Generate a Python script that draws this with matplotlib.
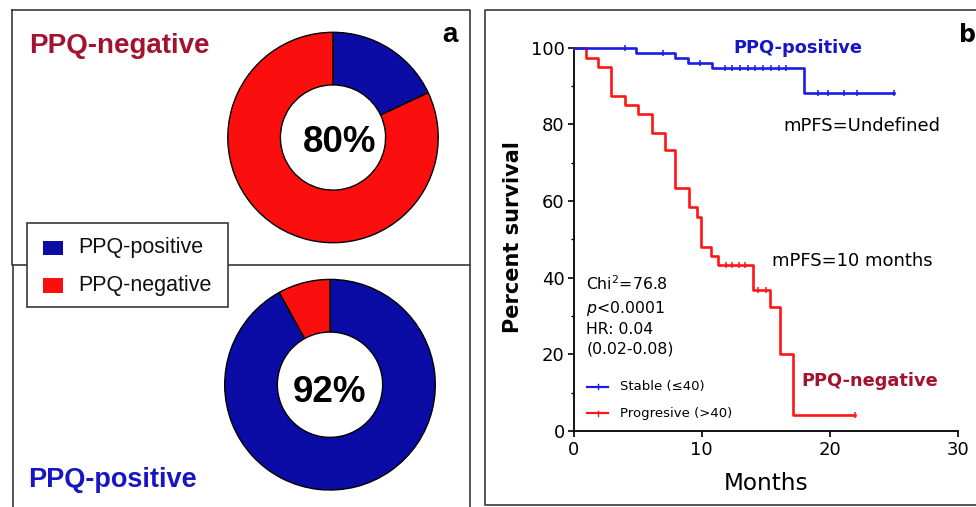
import matplotlib
matplotlib.use("Agg")
import matplotlib.pyplot as plt
from matplotlib.patches import Rectangle
from matplotlib.lines import Line2D

# ---------------- data ----------------
donut_labels = ["PPQ-positive", "PPQ-negative"]
donut_neg_values = [18, 82]      # PPQ-negative group: positive / negative share
donut_pos_values = [92, 8]       # PPQ-positive group: positive / negative share
donut_neg_text = "80%"
donut_pos_text = "92%"

# Kaplan-Meier, PPQ-positive (stable)
pos_times = [0, 4.85, 7.9, 8.96, 10.8, 18.0, 25.0]
pos_surv = [100, 98.7, 97.4, 96.1, 94.7, 88.3, 88.3]
pos_cens_t = [4.0, 7.0, 9.9, 11.8, 12.4, 13.0, 13.6, 14.2, 14.8, 15.4, 16.0, 16.6, 19.1, 19.9, 21.1, 22.1, 25.0]
pos_cens_s = [100, 98.7, 96.1, 94.7, 94.7, 94.7, 94.7, 94.7, 94.7, 94.7, 94.7, 94.7, 88.3, 88.3, 88.3, 88.3, 88.3]

# Kaplan-Meier, PPQ-negative (progressive)
neg_times = [0, 0.95, 1.9, 2.9, 4.0, 5.0, 6.1, 7.1, 7.95, 9.0, 9.6, 9.95, 10.7, 11.3, 14.0, 15.3, 16.1, 17.1, 22.0]
neg_surv = [100, 97.4, 94.9, 87.4, 85.1, 82.7, 77.8, 73.3, 63.5, 58.4, 55.9, 48.1, 45.7, 43.3, 36.8, 32.4, 20.1, 4.3, 4.3]
neg_cens_t = [11.9, 12.4, 12.9, 13.4, 14.4, 15.0, 22.0]
neg_cens_s = [43.3, 43.3, 43.3, 43.3, 36.8, 36.8, 4.3]

x_ticks = [0, 10, 20, 30]
y_ticks = [0, 20, 40, 60, 80, 100]
y_minor = [10, 30, 50, 70, 90]

stats_lines = ["Chi$^2$=76.8", "$\\it{p}$<0.0001", "HR: 0.04", "(0.02-0.08)"]
km_legend = ["Stable (\u226440)", "Progresive (>40)"]

# ---------------- styling ----------------
W, H = 976, 507
BLUE_D = "#0b0ba6"
RED_D = "#fb0e0e"
BLUE_L = "#1c1ce8"
RED_L = "#ff1515"
BLUE_T = "#1616c4"
RED_T = "#a3122e"
ARIAL = ["Liberation Sans", "DejaVu Sans"]
DV = ["DejaVu Sans"]

fig = plt.figure(figsize=(W / 100, H / 100), dpi=100)
fig.patch.set_facecolor("white")


def fx(x):
    return x / W


def fy(y):
    return 1 - y / H


def fline(xs, ys, **kw):
    fig.add_artist(Line2D([fx(v) for v in xs], [fy(v) for v in ys],
                          transform=fig.transFigure, **kw))


frame_kw = dict(color="#3a3a3a", lw=1.2)
# panel a frames
fline([12, 470, 470, 12, 12], [10, 10, 265, 265, 10], **frame_kw)
fline([13, 13], [265, 510], **frame_kw)
fline([470, 470], [265, 510], **frame_kw)
# panel b frame
fline([990, 485, 485, 990], [10, 10, 505, 505], **frame_kw)


def donut(cx, cy, r, values, text, tx, ty):
    S = 240
    ax = fig.add_axes([fx(cx - S / 2), fy(cy + S / 2), S / W, S / H])
    ax.pie(values, colors=[BLUE_D, RED_D], startangle=90, counterclock=False,
           wedgeprops=dict(width=0.5, edgecolor="black", linewidth=1.0))
    lim = (S / 2) / r
    ax.set_xlim(-lim, lim)
    ax.set_ylim(-lim, lim)
    ax.set_aspect("equal")
    ax.axis("off")
    fig.text(fx(tx), fy(ty), text, ha="center", va="baseline",
             fontsize=26.5, fontweight="bold", family=ARIAL)


donut(333, 137.5, 105.2, donut_neg_values, donut_neg_text, 340, 152)
donut(330, 384.7, 105.3, donut_pos_values, donut_pos_text, 330, 401.5)

fig.text(fx(29), fy(53), "PPQ-negative", color=RED_T, fontsize=20,
         fontweight="bold", family=ARIAL, va="baseline", ha="left")
fig.text(fx(28), fy(487), "PPQ-positive", color=BLUE_T, fontsize=19.5,
         fontweight="bold", family=ARIAL, va="baseline", ha="left")
fig.text(fx(450), fy(42), "a", color="black", fontsize=20,
         fontweight="bold", family=ARIAL, va="baseline", ha="center")

# legend of panel a
fig.add_artist(Rectangle((fx(27), fy(307)), (228 - 27) / W, (307 - 223) / H,
                         transform=fig.transFigure, facecolor="white",
                         edgecolor="#3a3a3a", lw=1.2, zorder=5))
for lab, col, yc in zip(donut_labels, [BLUE_D, RED_D], [248, 285.5]):
    fig.add_artist(Rectangle((fx(43), fy(yc + 7.2)), 20 / W, 14.4 / H,
                             transform=fig.transFigure, facecolor=col,
                             edgecolor="none", zorder=6))
    fig.text(fx(78), fy(yc), lab, fontsize=15.5, family=ARIAL,
             va="center", ha="left", zorder=7, color="#111111")

# ---------------- panel b: KM ----------------
axb = fig.add_axes([fx(573.7), fy(431), (957.7 - 573.7) / W, (431 - 47.7) / H])
axb.step(neg_times, neg_surv, where="post", color=RED_L, lw=1.9, clip_on=False, zorder=3)
axb.step(pos_times, pos_surv, where="post", color=BLUE_L, lw=1.9, clip_on=False, zorder=4)
axb.plot(neg_cens_t, neg_cens_s, ls="none", marker="|", ms=4, mew=1.1,
         color=RED_L, clip_on=False, zorder=3)
axb.plot(pos_cens_t, pos_cens_s, ls="none", marker="|", ms=4, mew=1.1,
         color=BLUE_L, clip_on=False, zorder=4)
axb.set_xlim(0, 30)
axb.set_ylim(0, 100)
axb.set_xticks(x_ticks)
axb.set_yticks(y_ticks)
axb.set_yticks(y_minor, minor=True)
axb.set_xticklabels([str(v) for v in x_ticks], family=DV, fontsize=13)
axb.set_yticklabels([str(v) for v in y_ticks], family=DV, fontsize=13)
for s in ["top", "right"]:
    axb.spines[s].set_visible(False)
for s in ["left", "bottom"]:
    axb.spines[s].set_linewidth(1.3)
    axb.spines[s].set_color("black")
axb.tick_params(which="major", direction="out", length=4.5, width=1.2, pad=2, colors="black")
axb.tick_params(which="minor", direction="out", length=2.5, width=1.0)
axb.tick_params(axis="x", pad=3)
axb.patch.set_alpha(0)

fig.text(fx(766), fy(490), "Months", ha="center", va="baseline", fontsize=16.7, family=DV)
fig.text(fx(513), fy(236.7), "Percent survival", ha="center", va="center",
         rotation=90, fontsize=15, fontweight="bold", family=DV)

fig.text(fx(733), fy(53), "PPQ-positive", color=BLUE_T, fontsize=12.8,
         fontweight="bold", family=DV, va="baseline", ha="left")
fig.text(fx(783), fy(131), "mPFS=Undefined", fontsize=13, family=DV,
         va="baseline", ha="left")
fig.text(fx(771.5), fy(266.5), "mPFS=10 months", fontsize=13, family=DV,
         va="baseline", ha="left")
fig.text(fx(801.5), fy(386.5), "PPQ-negative", color=RED_T, fontsize=12.8,
         fontweight="bold", family=DV, va="baseline", ha="left")
fig.text(fx(959), fy(42), "b", fontsize=17, fontweight="bold", family=DV,
         va="baseline", ha="left")

for txt, yb in zip(stats_lines, [289.5, 312.5, 333.5, 353.5]):
    fig.text(fx(586.5), fy(yb), txt, fontsize=11.3, family=DV, va="baseline", ha="left")

for lab, col, yc in zip(km_legend, [BLUE_L, RED_L], [386.7, 413]):
    fline([587, 608], [yc, yc], color=col, lw=1.6)
    fline([597.5, 597.5], [yc - 2.5, yc + 2.5], color=col, lw=1.0)
    fig.text(fx(620), fy(yc), lab, fontsize=9.5, family=DV, va="center", ha="left")

fig.savefig("out.png", dpi=100, facecolor="white")
